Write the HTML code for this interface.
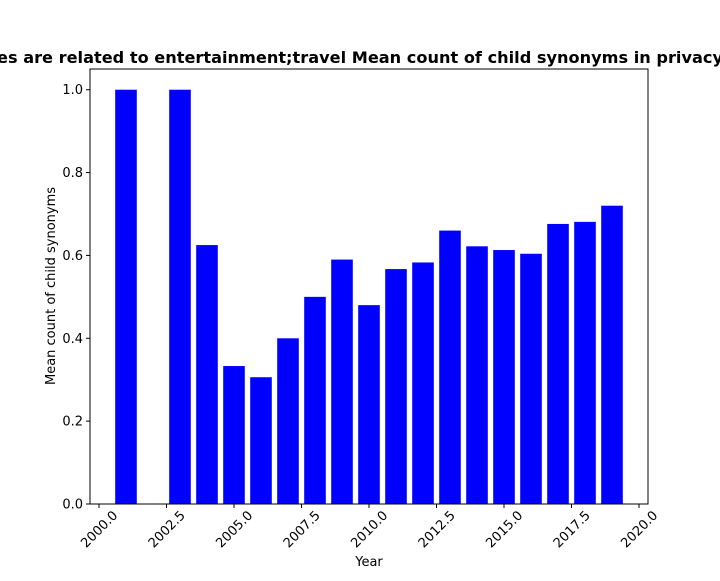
<!DOCTYPE html>
<html><head><meta charset="utf-8"><style>
body{margin:0;background:#fff;}
svg text{font-family:"DejaVu Sans","Liberation Sans",sans-serif;}
</style></head><body>
<svg id="chart" width="720" height="576" xmlns="http://www.w3.org/2000/svg">
<rect width="720" height="576" fill="#fff"/>
<text x="-3" y="63" font-size="16" font-weight="bold" textLength="726" lengthAdjust="spacingAndGlyphs">es are related to entertainment;travel Mean count of child synonyms in privacy</text>
<g id="bars"></g>
<g id="axes"></g>
<rect x="90" y="69" width="558" height="435" fill="none" stroke="#000" stroke-width="1"/>
<text x="369" y="566" font-size="13" text-anchor="middle">Year</text>
<text transform="translate(55,286) rotate(-90)" font-size="13" text-anchor="middle">Mean count of child synonyms</text>
</svg>
<script>
const years = [2001,2003,2004,2005,2006,2007,2008,2009,2010,2011,2012,2013,2014,2015,2016,2017,2018,2019];
const values = [1.0,1.0,0.625,0.333,0.306,0.4,0.5,0.59,0.48,0.567,0.583,0.66,0.622,0.613,0.604,0.676,0.681,0.72];
const xTicks = [2000,2002.5,2005,2007.5,2010,2012.5,2015,2017.5,2020];
const xTickLabels = ["2000.0","2002.5","2005.0","2007.5","2010.0","2012.5","2015.0","2017.5","2020.0"];
const yTicks = [0,0.2,0.4,0.6,0.8,1.0];
const yTickLabels = ["0.0","0.2","0.4","0.6","0.8","1.0"];

const NS="http://www.w3.org/2000/svg";
const L=90,R=648,T=69,B=504;
const xmin=1999.667,xmax=2020.333,ymin=0,ymax=1.05;
function xs(v){return L+(v-xmin)/(xmax-xmin)*(R-L);}
function ys(v){return B-(v-ymin)/(ymax-ymin)*(B-T);}
const bars=document.getElementById('bars'),axes=document.getElementById('axes');
years.forEach((yr,i)=>{
  const r=document.createElementNS(NS,'rect');
  const x0=xs(yr-0.4),x1=xs(yr+0.4);
  r.setAttribute('x',x0);r.setAttribute('width',x1-x0);
  r.setAttribute('y',ys(values[i]));r.setAttribute('height',ys(0)-ys(values[i]));
  r.setAttribute('fill','#0000ff');
  
  
  bars.appendChild(r);
});
xTicks.forEach((t,i)=>{
  const x=xs(t);
  const ln=document.createElementNS(NS,'line');
  ln.setAttribute('x1',x);ln.setAttribute('x2',x);ln.setAttribute('y1',B);ln.setAttribute('y2',B+4);
  ln.setAttribute('stroke','#000');
  
  
  axes.appendChild(ln);
  const tx=document.createElementNS(NS,'text');
  tx.setAttribute('transform','translate('+x+','+(B+25)+') rotate(-45)');
  tx.setAttribute('text-anchor','middle');tx.setAttribute('dy','0.35em');tx.setAttribute('font-size','13');
  tx.textContent=xTickLabels[i];
  
  
  axes.appendChild(tx);
});
yTicks.forEach((t,i)=>{
  const y=ys(t);
  const ln=document.createElementNS(NS,'line');
  ln.setAttribute('x1',L-4);ln.setAttribute('x2',L);ln.setAttribute('y1',y);ln.setAttribute('y2',y);
  ln.setAttribute('stroke','#000');
  
  
  axes.appendChild(ln);
  const tx=document.createElementNS(NS,'text');
  tx.setAttribute('x',L-7);tx.setAttribute('y',y+4.5);
  tx.setAttribute('text-anchor','end');tx.setAttribute('font-size','13');
  tx.textContent=yTickLabels[i];
  
  
  axes.appendChild(tx);
});
</script>
</body></html>
